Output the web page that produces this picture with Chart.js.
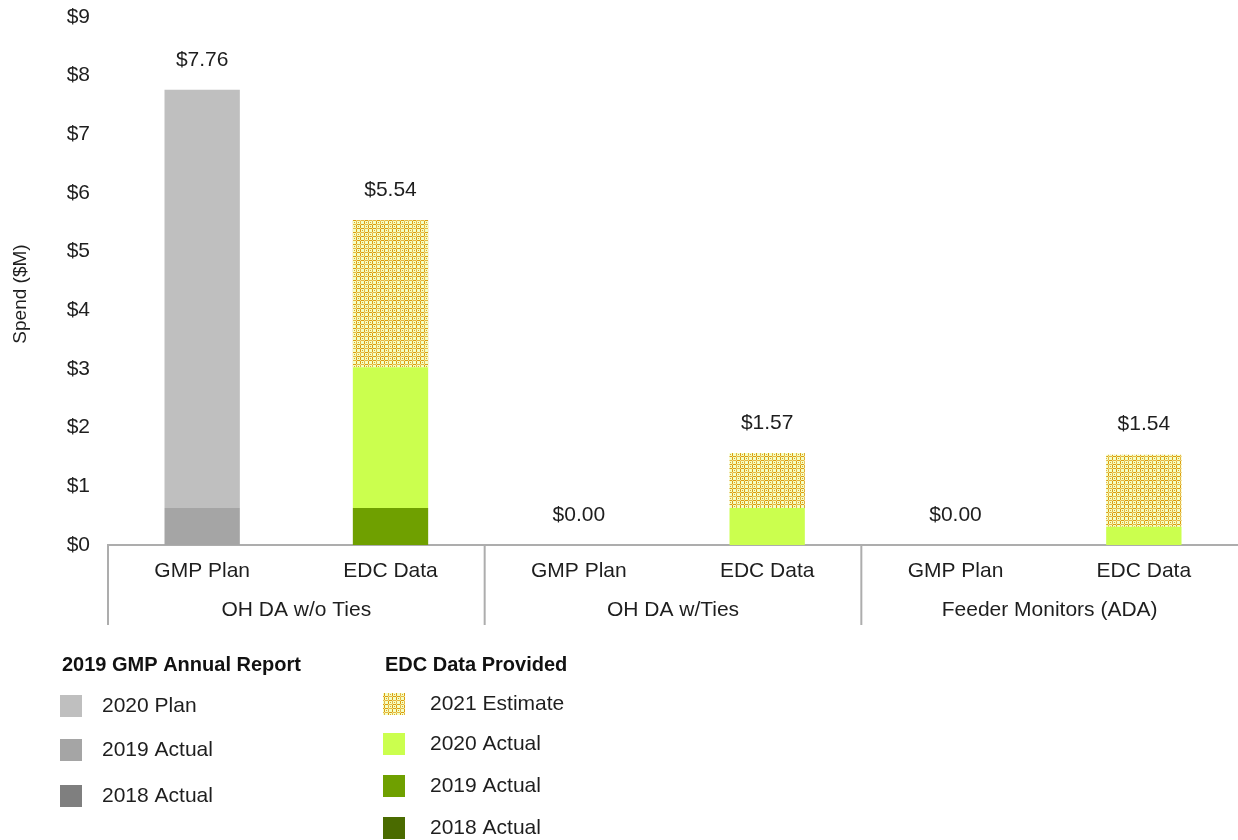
<!DOCTYPE html>
<html>
<head>
<meta charset="utf-8">
<script src="https://cdn.jsdelivr.net/npm/chart.js@4/dist/chart.umd.min.js"></script>
<style>
  body { margin: 0; background: #fff; }
  #wrap { width: 1238px; height: 840px; position: relative; }
</style>
</head>
<body>
<div id="wrap"><canvas id="chart"></canvas></div>
<script>
// categories and groups along the x axis
const categories = ["GMP Plan", "EDC Data", "GMP Plan", "EDC Data", "GMP Plan", "EDC Data"];
const groups = ["OH DA w/o Ties", "OH DA w/Ties", "Feeder Monitors (ADA)"];
const yTicks = [0, 1, 2, 3, 4, 5, 6, 7, 8, 9];

// 2019 GMP Annual Report ($M)
const gmp2018Actual = [0, null, 0, null, 0, null];
const gmp2019Actual = [0.63, null, 0, null, 0, null];
const gmp2020Plan = [7.13, null, 0, null, 0, null];

// EDC Data Provided ($M)
const edc2018Actual = [null, 0, null, 0, null, 0];
const edc2019Actual = [null, 0.63, null, 0, null, 0];
const edc2020Actual = [null, 2.40, null, 0.63, null, 0.31];
const edc2021Estimate = [null, 2.51, null, 0.94, null, 1.23];

const FONT = "'Liberation Sans', Arial, sans-serif";
const TEXT = "#1e1e1e";
const AXIS = "#ADADAD";

// gold lattice fill for the estimate series
function makeLattice() {
  const n = 12;
  const c = document.createElement("canvas");
  c.width = n; c.height = n;
  const g = c.getContext("2d");
  g.fillStyle = "#F3FFC4";
  g.fillRect(0, 0, n, n);
  for (let y = 0; y < n; y++) {
    for (let x = 0; x < n; x++) {
      const onX = x % 4 === 0, onY = y % 4 === 0;
      if (onX && onY) g.fillStyle = "#F0DC8C";
      else if (onX || onY) g.fillStyle = (x + y) % 8 < 4 ? "#DC9E10" : "#E6B840";
      else if (x % 4 === 2 && y % 4 === 2 && (x < 6) === (y < 6)) g.fillStyle = "#E0A626";
      else continue;
      g.fillRect(x, y, 1, 1);
    }
  }
  return g.createPattern(c, "repeat");
}
const lattice = makeLattice();

const ds = (label, data, color) => ({
  label, data, backgroundColor: color, stack: "s",
  barPercentage: 0.4, categoryPercentage: 1, borderWidth: 0
});

const datasets = [
  ds("2018 Actual", gmp2018Actual, "#7F7F7F"),
  ds("2019 Actual", gmp2019Actual, "#A5A5A5"),
  ds("2020 Plan", gmp2020Plan, "#BFBFBF"),
  ds("2018 Actual", edc2018Actual, "#4A6B00"),
  ds("2019 Actual", edc2019Actual, "#6FA000"),
  ds("2020 Actual", edc2020Actual, "#CBFF4E"),
  ds("2021 Estimate", edc2021Estimate, lattice),
];

// totals above each stack, group labels, dividers, axis title and the legend
const extras = {
  id: "extras",
  afterDraw(chart) {
    const { ctx, chartArea } = chart;
    const x = chart.scales.x, y = chart.scales.y;
    const step = (chartArea.right - chartArea.left) / categories.length;
    ctx.save();
    ctx.fillStyle = TEXT;
    ctx.font = "21px " + FONT;
    ctx.textAlign = "center";
    ctx.textBaseline = "middle";
    categories.forEach((c, i) => {
      const total = datasets.reduce((s, d) => s + (d.data[i] || 0), 0);
      ctx.fillText("$" + total.toFixed(2), x.getPixelForValue(i), y.getPixelForValue(total) - 30);
    });
    groups.forEach((g, i) => {
      const left = chartArea.left + i * 2 * step;
      ctx.fillText(g, left + step, chartArea.bottom + 65);
      ctx.strokeStyle = AXIS;
      ctx.lineWidth = 2;
      ctx.beginPath();
      ctx.moveTo(left, chartArea.bottom);
      ctx.lineTo(left, chartArea.bottom + 80);
      ctx.stroke();
    });

    // y axis title
    ctx.save();
    ctx.translate(21, 294);
    ctx.rotate(-Math.PI / 2);
    ctx.font = "19px " + FONT;
    ctx.fillText("Spend ($M)", 0, 0);
    ctx.restore();

    // legend blocks
    const blocks = [
      { title: "2019 GMP Annual Report", x: 60, tx: 102, rows: [706, 750, 796], items: [2, 1, 0] },
      { title: "EDC Data Provided", x: 383, tx: 430, rows: [704, 744, 786, 828], items: [6, 5, 4, 3] },
    ];
    ctx.textAlign = "left";
    blocks.forEach(b => {
      ctx.font = "bold 20px " + FONT;
      ctx.fillStyle = "#111";
      ctx.fillText(b.title, b.x + 2, 665);
      ctx.font = "21px " + FONT;
      b.items.forEach((di, k) => {
        const d = datasets[di];
        const cy = b.rows[k];
        ctx.fillStyle = d.backgroundColor;
        ctx.fillRect(b.x, cy - 11, 22, 22);
        ctx.fillStyle = TEXT;
        ctx.fillText(d.label, b.tx, cy);
      });
    });
    ctx.restore();
  }
};

new Chart(document.getElementById("chart"), {
  type: "bar",
  data: { labels: categories, datasets },
  plugins: [extras],
  options: {
    responsive: true,
    maintainAspectRatio: false,
    animation: false,
    layout: { padding: { top: 17, right: 0, left: 0, bottom: 0 } },
    plugins: { legend: { display: false }, tooltip: { enabled: false } },
    scales: {
      x: {
        stacked: true,
        grid: { display: false, drawTicks: false },
        border: { display: true, color: AXIS, width: 2 },
        ticks: { color: TEXT, font: { family: FONT, size: 21 }, padding: 14, autoSkip: false, maxRotation: 0 },
        afterFit(scale) { scale.height = 295; scale.paddingLeft = 0; scale.paddingRight = 0; }
      },
      y: {
        stacked: true,
        min: 0, max: 9,
        afterBuildTicks(scale) { scale.ticks = yTicks.map(v => ({ value: v })); },
        grid: { display: false, drawTicks: false },
        border: { display: false },
        ticks: { color: TEXT, font: { family: FONT, size: 21 }, padding: 18, callback: v => "$" + v },
        afterFit(scale) { scale.width = 108; scale.paddingTop = 0; scale.paddingBottom = 0; }
      }
    }
  }
});
</script>
</body>
</html>
